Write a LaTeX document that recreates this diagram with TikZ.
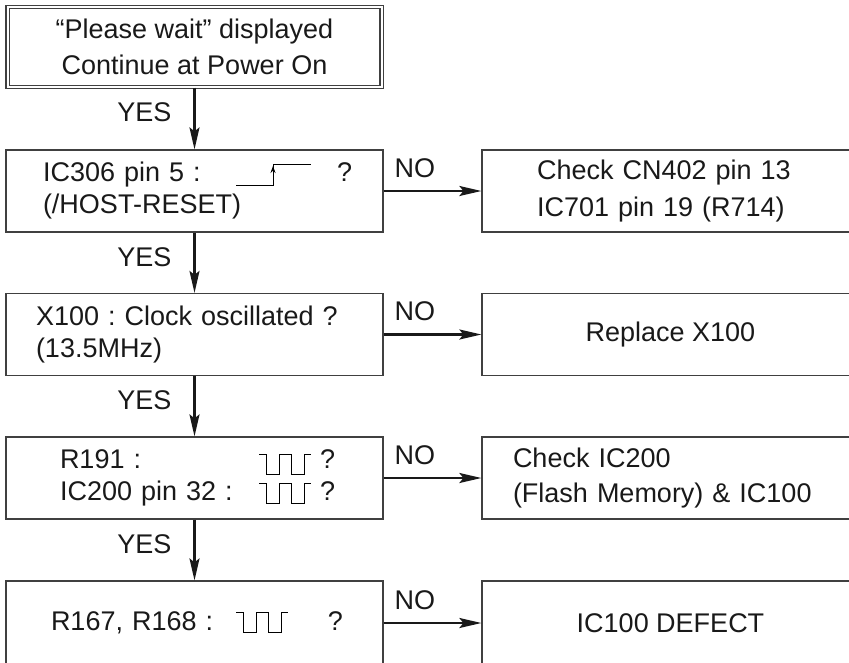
\documentclass[tikz,border=0pt]{standalone}
\usepackage{fontspec}
\setmainfont{Liberation Sans}
\usetikzlibrary{arrows.meta}
\frenchspacing

\begin{document}
\begin{tikzpicture}
	[x=1pt, y=-1pt,
	box node/.style={draw=black!75, line width=1.2pt, minimum width=377pt, minimum height=82pt, inner ysep=0pt, align=left, text=black!90},
	flow/.style={draw=black!90, line width=2.2pt, -{Stealth[length=22pt, width=10pt, inset=4pt]}},
	lbl/.style={inner sep=0pt, text=black!90},
	font=\fontsize{27}{32}\selectfont]
	\useasboundingbox (0,0) rectangle (849,662);
	\clip (0,0) rectangle (849,662);

	%start
	\node[box node, double, double distance=2pt, line width=1.1pt, minimum width=374pt, minimum height=80pt, align=center, font=\fontsize{27}{36}\selectfont] (start) at (194.5,47) {“Please wait” displayed\\Continue at Power On};

	%questions, left column
	\node[box node, text width=303pt, inner xsep=37pt] (q1) at (194.5,191) {\makebox[294pt][l]{IC306 pin 5 :}?\\(/HOST-RESET)};
	\node[box node, text width=317pt, inner xsep=30pt] (q2) at (194.5,334.5) {X100 : Clock oscillated ?\\(13.5MHz)};
	\node[box node, text width=269pt, inner xsep=54pt] (q3) at (194.5,478) {\makebox[260pt][l]{R191 :}?\\\makebox[260pt][l]{IC200 pin 32 :}?};
	\node[box node, text width=287pt, inner xsep=45pt, minimum height=84pt] (q4) at (194.5,623) {\makebox[277pt][l]{R167, R168 :}?};

	%answers, right column
	\node[box node, text width=267pt, inner xsep=55pt, font=\fontsize{27}{37}\selectfont] (a1) at (670.5,191) {Check CN402 pin 13\\IC701 pin 19 (R714)};
	\node[box node, align=center] (a2) at (670.5,334.5) {Replace X100};
	\node[box node, text width=315pt, inner xsep=31pt, font=\fontsize{27}{35}\selectfont] (a3) at (670.5,478) {Check IC200\\(Flash Memory) \& IC100};
	\node[box node, align=center, minimum height=84pt] (a4) at (670.5,623) {IC100 DEFECT};

	%reset edge
	\draw[line width=1pt] (236,185) -- (273,185) -- (273,164) -- (311,164);
	\draw[line width=1pt, -{Stealth[length=7pt, width=5pt]}] (273,182) -- (273,166);

	%clock pulses
	\foreach \x/\y in {259/474, 259/503, 236/632}
		\draw[line width=1pt] (\x,\y-20) -- ++(7.5,0) -- ++(0,20) -- ++(13,0) -- ++(0,-20) -- ++(11.5,0) -- ++(0,20) -- ++(13,0) -- ++(0,-20) -- ++(7,0);

	\foreach \a/\b in {start/q1, q1/q2, q2/q3, q3/q4}
		\draw[flow] (\a) -- node[lbl, pos=0.4, left=22pt] {YES} (\b); %down
	\foreach \i in {1,...,4}
		\draw[flow] (q\i) -- node[lbl, pos=0, anchor=base west, xshift=10pt, yshift=14pt] {NO} (a\i); %right
\end{tikzpicture}
\end{document}
